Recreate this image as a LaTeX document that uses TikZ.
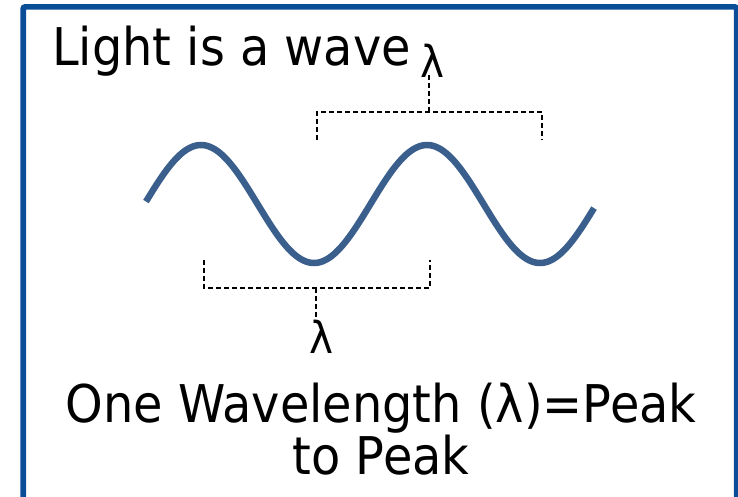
\documentclass[tikz,border=0pt]{standalone}
\usepackage{fontspec}
\setmainfont{DejaVu Sans}
\newfontfamily\narrowfont[FakeStretch=0.92]{DejaVu Sans}
\usepackage{xcolor}
\usetikzlibrary{positioning}

\definecolor{framecol}{RGB}{10,78,152}
\definecolor{wavecol}{RGB}{58,95,140}

\begin{document}
\begin{tikzpicture}[x=1pt, y=-1pt,
        bracket/.style={black, line width=1.6pt, dash pattern=on 5pt off 3pt},
        lbl/.style={inner sep=0pt, font=\narrowfont\fontsize{44}{48}\selectfont},
        bigtxt/.style={inner sep=0pt, font=\narrowfont\fontsize{52}{52}\selectfont}]
        \useasboundingbox (0,0) rectangle (738,497);
        \clip (0,0) rectangle (738,497);
        % frame
        \draw[framecol, line width=5.7pt, rounded corners=2pt] (23.2,6.9) rectangle (736.6,540);
        % texts
        \node[bigtxt, anchor=base west] (title) at (52,66) {Light is a wave};
        \node[bigtxt, anchor=base, align=center] (caption) at (381,474) {One Wavelength (λ)=Peak\\to Peak};
        % wave
        \draw[wavecol, line width=6.5pt, line cap=butt] plot[domain=146:594, samples=180, smooth]
            (\x, {204-59*cos((\x-201)/226*360)});
        % upper bracket, trough to trough
        \coordinate (uL) at (317,140);
        \coordinate (uLt) at (317,112);
        \coordinate (uRt) at (542,112);
        \coordinate (uR) at (542,140);
        \coordinate (uM) at (429,112);
        \node[lbl, anchor=south] (lamtop) at (432,78) {λ};
        \draw[bracket] (uL) -- (uLt) -- (uRt) -- (uR);
        \draw[bracket] (uM) -- ([yshift=5pt]lamtop.south -| uM);
        % lower bracket, peak to peak
        \coordinate (lL) at (204,260);
        \coordinate (lLb) at (204,288);
        \coordinate (lRb) at (430,288);
        \coordinate (lR) at (430,260);
        \coordinate (lM) at (316,288);
        \node[lbl, anchor=north] (lambot) at (321,320) {λ};
        \draw[bracket] (lL) -- (lLb) -- (lRb) -- (lR);
        \draw[bracket] (lM) -- ([yshift=-3pt]lambot.north -| lM);
\end{tikzpicture}
\end{document}
